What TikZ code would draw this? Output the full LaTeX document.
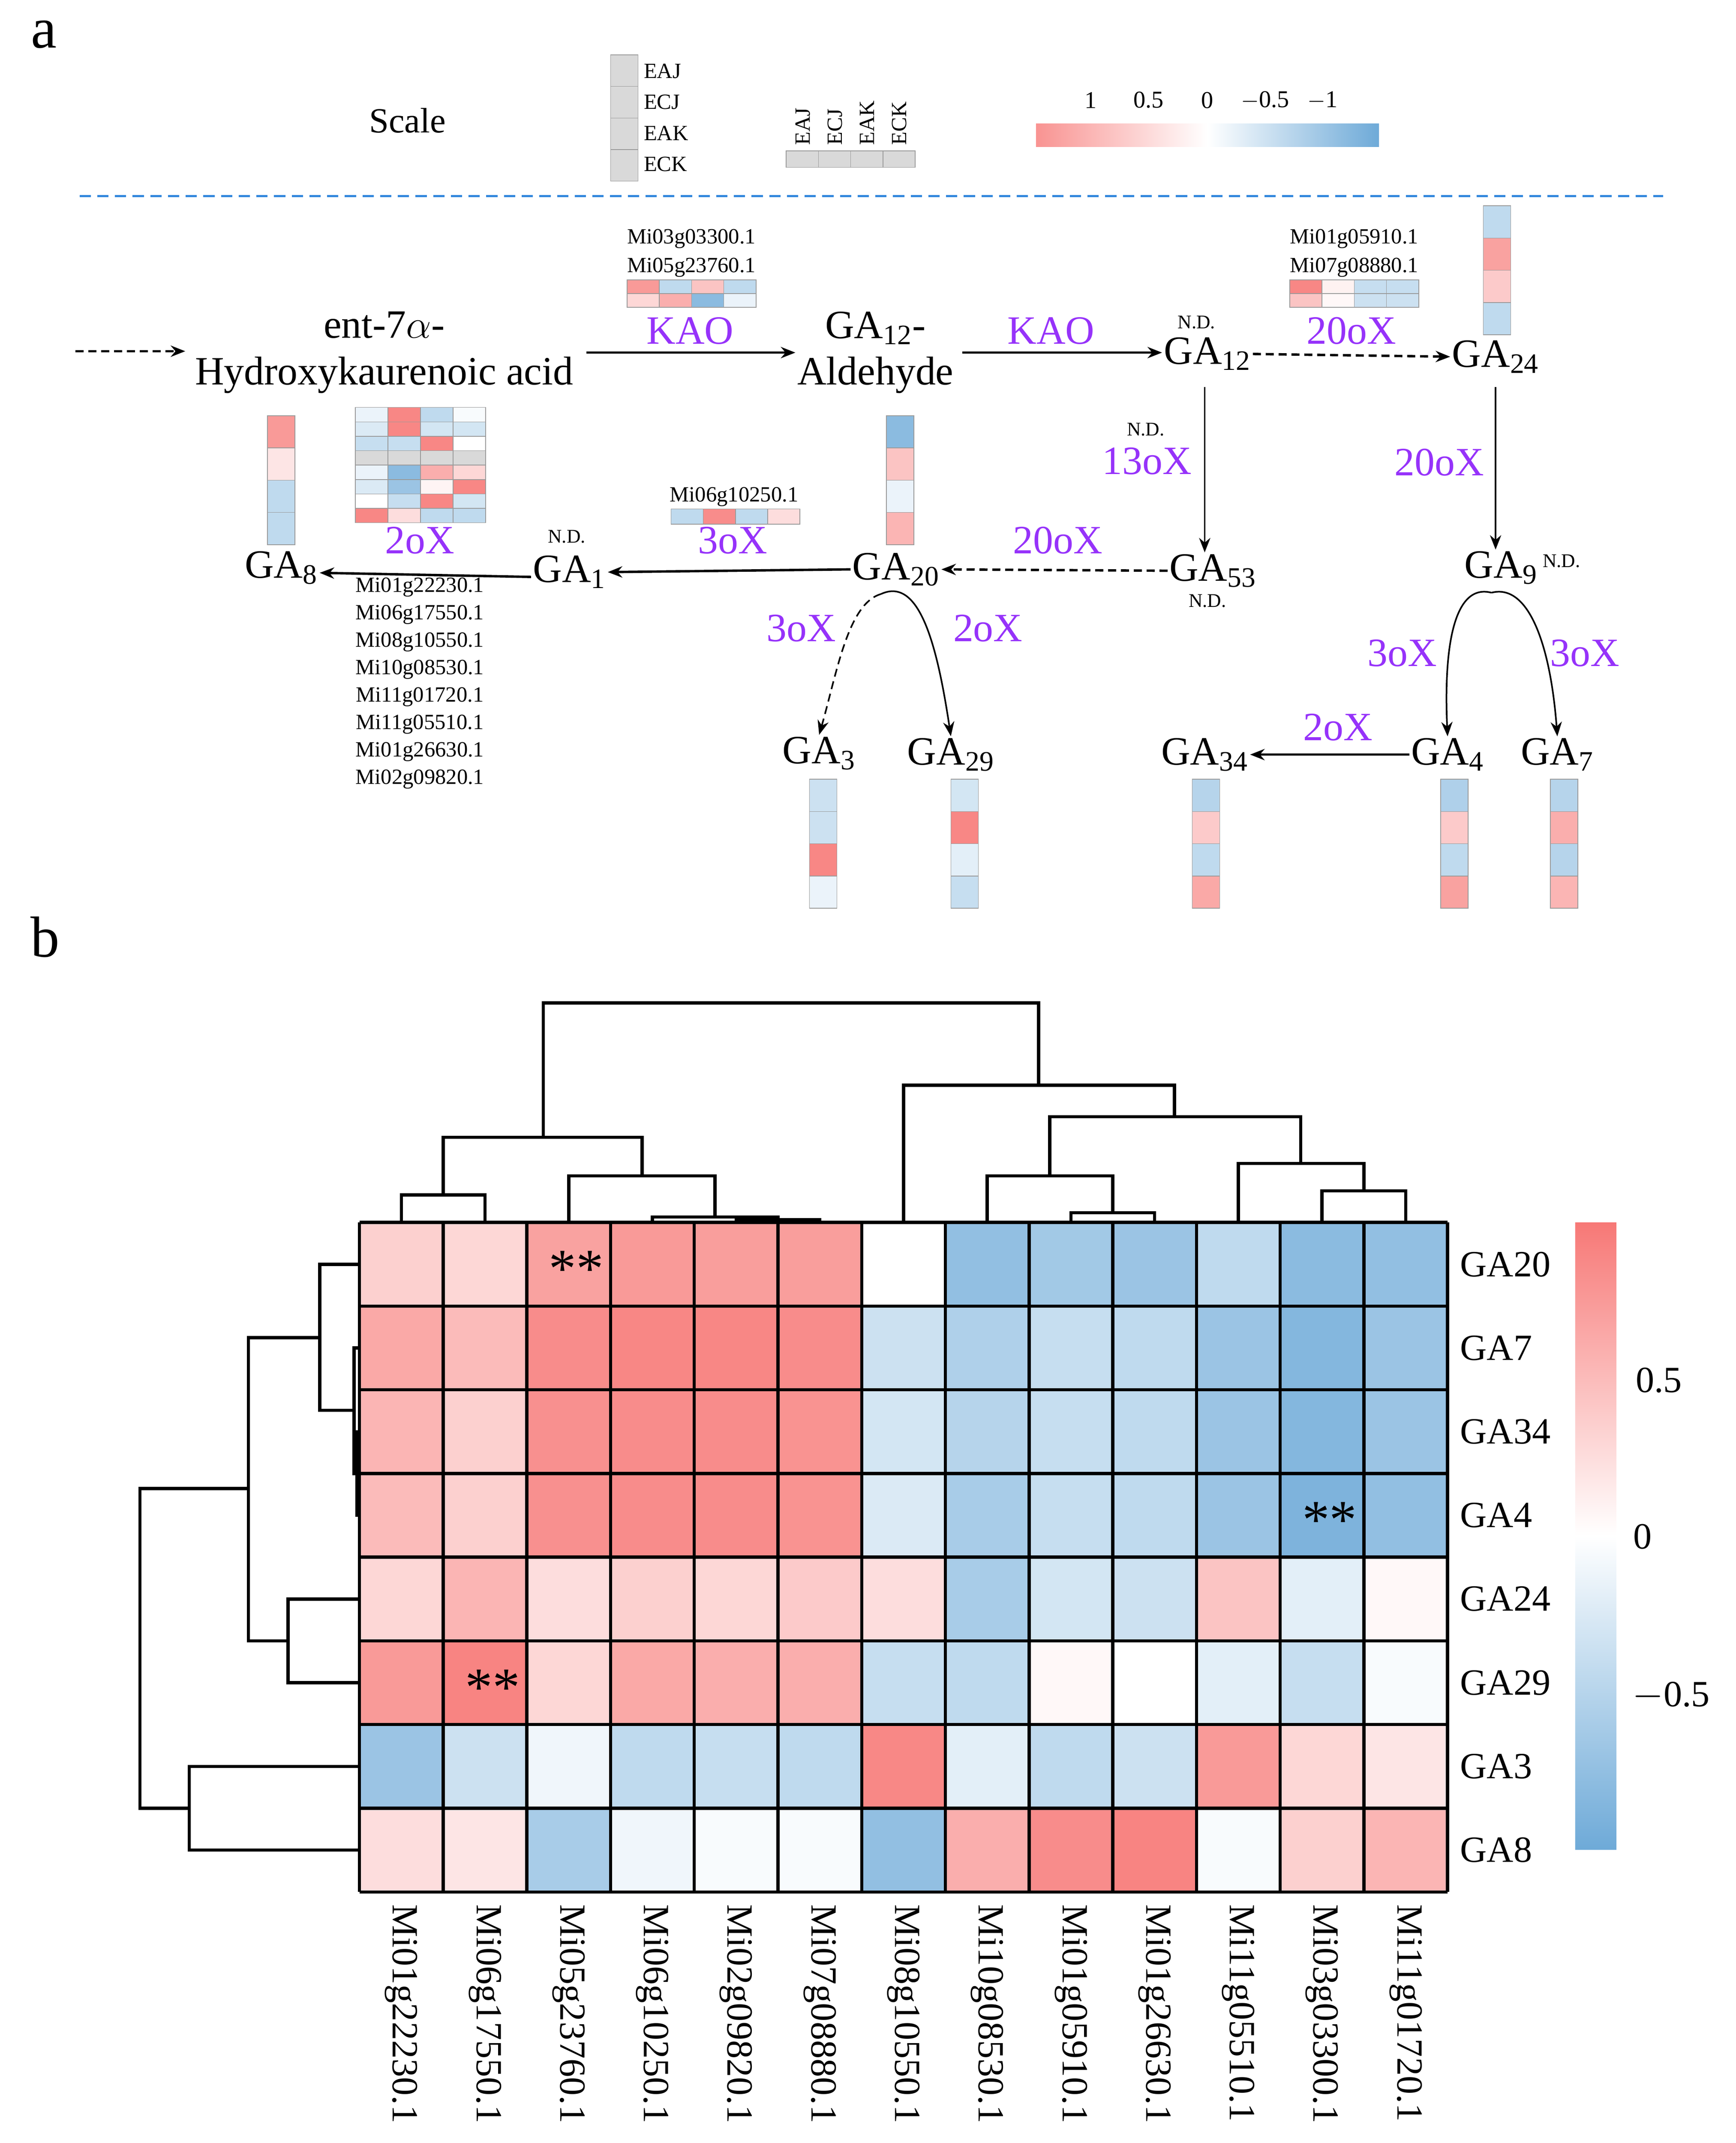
\documentclass[tikz,border=0pt]{standalone}
\usepackage{fontspec}
\setmainfont{Liberation Serif}
\usetikzlibrary{arrows.meta}
\definecolor{hr}{RGB}{247,120,118}
\definecolor{hb}{RGB}{110,170,216}
\definecolor{enz}{RGB}{150,50,250}
\definecolor{dl}{RGB}{50,135,220}
\newcommand\fbig{\fontsize{25}{29}\selectfont}
\newcommand\fgene{\fontsize{13.5}{16}\selectfont}
\newcommand\fmid{\fontsize{23}{26}\selectfont}
\newcommand\hcl[6][cellb]{%
 \pgfmathtruncatemacro\hpct{min(abs(#6),1)*100}%
 \ifdim #6pt>1.5pt \def\hcc{gray!30}\else
 \ifdim #6pt<0pt \def\hcc{hb!\hpct!white}\else\def\hcc{hr!\hpct!white}\fi\fi
 \filldraw[fill=\hcc,#1] (#2,#3) rectangle ++(#4,#5);}
\newcommand\vbar[3]{\foreach \v [count=\i from 0] in {#3} {\hcl{#1}{#2+23.5*\i}{20}{23.5}{\v}}}
\newcommand\hrowc[5]{\foreach \v [count=\i from 0] in {#5} {\hcl{#1+#3*\i}{#2}{#3}{#4}{\v}}}
\begin{document}
\begin{tikzpicture}[x=0.03cm,y=-0.03cm,
 cellb/.style={draw=gray!80,line width=0.4pt},
 lab/.style={font=\fbig,inner sep=1pt},
 en/.style={font=\fbig,text=enz,inner sep=0pt},
 gn/.style={font=\fgene,inner sep=0pt},
 nd/.style={font=\fontsize{12}{14}\selectfont,inner sep=0pt},
 arr/.style={line width=1.5pt,-{Stealth[length=9pt,width=7pt]}},
 thin/.style={line width=1pt,-{Stealth[length=9pt,width=7pt]}},
 dend/.style={line width=2pt,line cap=rect},
 star/.style={font=\fontsize{34}{36}\selectfont,inner sep=0pt}]
\useasboundingbox (0,0) rectangle (1265,1562);
% labels a b
\node[font=\fontsize{36}{40}\selectfont] (la) at (32,25) {a};
\node[font=\fontsize{36}{40}\selectfont] (lb) at (33,683) {b};
% scale
\node[font=\fontsize{22}{26}\selectfont] (sc) at (297,88) {Scale};
\foreach \t [count=\i from 0] in {EAJ,ECJ,EAK,ECK}{
 \hcl{445}{40+23*\i}{20}{23}{2}
 \node[gn,anchor=west] (s\i) at (469,52+22.5*\i) {\t};
 \hcl{573+23.5*\i}{110}{23.5}{12}{2}
 \node[gn,rotate=90,anchor=west] (t\i) at (585+23.5*\i,106) {\t};}
\shade[left color=hr!80!white,right color=hb,middle color=white] (755,90) rectangle (1005,107);
\foreach \t/\x in {1/795,0.5/837,0/880,$-$0.5/922,$-$1/964}
 \node[gn,font=\fontsize{15}{17}\selectfont] at (\x,73) {\t};
\draw[dl,line width=1.3pt,dash pattern=on 7pt off 4pt] (58,143) -- (1212,143);
% pathway nodes
\coordinate (st) at (55,256);
\node[lab,align=center] (ent) at (280,257) {ent-7$\alpha$-\\Hydroxykaurenoic acid};
\node[lab,align=center] (ald) at (638,257) {GA\textsubscript{12}-\\Aldehyde};
\node[lab] (ga12) at (880,258) {GA\textsubscript{12}};
\node[lab] (ga24) at (1090,260) {GA\textsubscript{24}};
\node[lab] (ga53) at (884,416) {GA\textsubscript{53}};
\node[lab] (ga9) at (1094,414) {GA\textsubscript{9}};
\node[lab] (ga20) at (653,415) {GA\textsubscript{20}};
\node[lab] (ga1) at (415,417) {GA\textsubscript{1}};
\node[lab] (ga8) at (205,414) {GA\textsubscript{8}};
\node[lab] (ga3) at (597,549) {GA\textsubscript{3}};
\node[lab] (ga29) at (693,550) {GA\textsubscript{29}};
\node[lab] (ga34) at (878,550) {GA\textsubscript{34}};
\node[lab] (ga4) at (1055,550) {GA\textsubscript{4}};
\node[lab] (ga7) at (1135,550) {GA\textsubscript{7}};
\node[nd] (nd1) at (872,235) {N.D.};
\node[nd] (nd2) at (835,313) {N.D.};
\node[nd] (nd3) at (880,438) {N.D.};
\node[nd] (nd4) at (1138,409) {N.D.};
\node[nd] (nd5) at (413,391) {N.D.};
% arrows
\draw[arr,dash pattern=on 5pt off 3pt] (st) -- (135,256) coordinate (st2);
\draw[arr] (ent.east) ++(8,0) coordinate (e1) -- (ald.west |- e1);
\draw[arr] (ald.east) ++(5,0) coordinate (e2) -- (ga12.west |- e2);
\draw[arr,dash pattern=on 5pt off 3pt] (ga12.east) -- (ga24.west);
\draw[thin] (878,282) coordinate (v1) -- (v1 |- ga53.north);
\draw[thin] (1090,282) coordinate (v2) -- (v2 |- ga9.north);
\draw[arr,dash pattern=on 5pt off 3pt] (ga53.west) -- (ga20.east);
\draw[arr] (ga20.west) -- (ga1.east);
\draw[arr] ([yshift=-3pt]ga1.west) -- ([yshift=-3pt]ga8.east);
\draw[arr] (ga4.west) -- (ga34.east);
\draw[thin,dash pattern=on 5pt off 3pt] (642,433) coordinate (c1) .. controls (618,440) and (610,490) .. (ga3.north);
\draw[thin] (c1) .. controls (670,420) and (683,470) .. (ga29.north);
\draw[thin] (1087,432) coordinate (c2) .. controls (1060,425) and (1052,470) .. (ga4.north);
\draw[thin] (c2) .. controls (1114,425) and (1130,470) .. (ga7.north);
% enzyme labels
\node[en] (k1) at (503,241) {KAO};
\node[en] (k2) at (766,241) {KAO};
\node[en] (o1) at (985,241) {20oX};
\node[en] (o2) at (836,336) {13oX};
\node[en] (o3) at (1049,337) {20oX};
\node[en] (o4) at (771,394) {20oX};
\node[en] (o5) at (534,394) {3oX};
\node[en] (o6) at (306,394) {2oX};
\node[en] (o7) at (584,458) {3oX};
\node[en] (o8) at (720,458) {2oX};
\node[en] (o9) at (1022,476) {3oX};
\node[en] (o10) at (1155,476) {3oX};
\node[en] (o11) at (975,530) {2oX};
% gene labels
\node[gn] (g1) at (504,174) {Mi03g03300.1};
\node[gn] (g2) at (504,195) {Mi05g23760.1};
\node[gn] (g3) at (987,174) {Mi01g05910.1};
\node[gn] (g4) at (987,195) {Mi07g08880.1};
\node[gn] (g5) at (535,362) {Mi06g10250.1};
\foreach \t [count=\i from 0] in {Mi01g22230.1,Mi06g17550.1,Mi08g10550.1,Mi10g08530.1,Mi11g01720.1,Mi11g05510.1,Mi01g26630.1,Mi02g09820.1}
 \node[gn] (gl\i) at (306,428+20*\i) {\t};
% small heatmaps
\hrowc{457}{204}{23.5}{10}{0.75,-0.45,0.45,-0.45}
\hrowc{457}{214}{23.5}{10}{0.3,0.6,-0.8,-0.15}
\hrowc{940}{204}{23.5}{10}{0.9,0.1,-0.4,-0.4}
\hrowc{940}{214}{23.5}{10}{0.45,0.05,-0.35,-0.35}
\hrowc{489}{371}{23.5}{11}{-0.45,0.85,-0.45,0.25}
\foreach \r [count=\j from 0] in {{-0.15,0.9,-0.45,-0.05},{-0.25,0.9,-0.3,-0.3},{-0.4,-0.4,0.9,0},{2,2,2,2},{-0.15,-0.8,0.6,0.3},{-0.25,-0.7,0.08,0.9},{0,-0.4,0.9,-0.3},{0.9,0.25,-0.45,-0.45}}
 {\edef\tmp{\noexpand\hrowc{259}{297+10.5*\j}{23.75}{10.5}{\r}}\tmp}
\vbar{195}{303}{0.75,0.2,-0.45,-0.45}
\vbar{646}{303}{-0.8,0.45,-0.15,0.55}
\vbar{1081}{150}{-0.45,0.7,0.4,-0.45}
\vbar{590}{568}{-0.35,-0.35,0.9,-0.15}
\vbar{693}{568}{-0.3,0.9,-0.2,-0.4}
\vbar{869}{568}{-0.5,0.4,-0.45,0.65}
\vbar{1050}{568}{-0.55,0.4,-0.45,0.7}
\vbar{1130}{568}{-0.5,0.6,-0.5,0.55}
% panel b heatmap
\foreach \row [count=\r from 0] in {
{0.35,0.3,0.7,0.75,0.72,0.72,0,-0.75,-0.65,-0.7,-0.45,-0.8,-0.75},
{0.65,0.5,0.85,0.9,0.9,0.85,-0.35,-0.55,-0.4,-0.45,-0.7,-0.85,-0.7},
{0.55,0.35,0.82,0.85,0.85,0.8,-0.3,-0.5,-0.4,-0.45,-0.7,-0.85,-0.7},
{0.5,0.35,0.82,0.85,0.85,0.8,-0.25,-0.6,-0.4,-0.45,-0.7,-0.9,-0.75},
{0.3,0.55,0.25,0.35,0.3,0.4,0.25,-0.6,-0.3,-0.35,0.45,-0.2,0.05},
{0.75,0.92,0.3,0.65,0.6,0.6,-0.4,-0.45,0.05,0,-0.2,-0.4,-0.05},
{-0.7,-0.35,-0.1,-0.45,-0.4,-0.45,0.88,-0.2,-0.45,-0.35,0.75,0.3,0.2},
{0.25,0.2,-0.6,-0.1,-0.05,-0.05,-0.75,0.6,0.85,0.92,-0.05,0.35,0.55}}
 {\foreach \v [count=\c from 0] in \row {\hcl[draw=none]{262+61*\c}{891+61*\r}{61}{61}{\v}}}
\foreach \i in {0,...,13} \draw[line width=2pt] (262+61*\i,891) -- (262+61*\i,1379);
\foreach \i in {0,...,8} \draw[line width=2pt] (262,891+61*\i) -- (1055,891+61*\i);
\node[star] (st1) at (420,925) {**};
\node[star] (st2b) at (969,1108) {**};
\node[star] (st3) at (359,1230) {**};
\foreach \t [count=\i from 0] in {GA20,GA7,GA34,GA4,GA24,GA29,GA3,GA8}
 \node[font=\fmid,anchor=west,inner sep=0pt] (rl\i) at (1064,921.5+61*\i) {\t};
\foreach \t [count=\i from 0] in {Mi01g22230.1,Mi06g17550.1,Mi05g23760.1,Mi06g10250.1,Mi02g09820.1,Mi07g08880.1,Mi08g10550.1,Mi10g08530.1,Mi01g05910.1,Mi01g26630.1,Mi11g05510.1,Mi03g03300.1,Mi11g01720.1}
 \node[font=\fmid,rotate=-90,anchor=west,inner sep=0pt] (cl\i) at (292.5+61*\i,1388) {\t};
\shade[top color=hr,bottom color=hb,middle color=white] (1148,891) rectangle (1178,1348);
\node[font=\fmid] (b1) at (1209,1006) {0.5};
\node[font=\fmid] (b2) at (1197,1120) {0};
\node[font=\fmid] (b3) at (1218,1236) {$-$0.5};
% top dendrogram
\draw[dend] (292.5,891) |- (353.5,871) -- (353.5,891);
\draw[dend] (536.5,891) |- (597.5,889) -- (597.5,891);
\draw[dend] (475.5,891) |- (567,887) -- (567,889);
\draw[dend] (414.5,891) |- (521,857) -- (521,887);
\draw[dend] (323,871) |- (468,829) -- (468,857);
\draw[dend] (780.5,891) |- (841.5,884) -- (841.5,891);
\draw[dend] (719.5,891) |- (811,857) -- (811,884);
\draw[dend] (963.5,891) |- (1024.5,868) -- (1024.5,891);
\draw[dend] (902.5,891) |- (994,848) -- (994,868);
\draw[dend] (765,857) |- (948,814) -- (948,848);
\draw[dend] (658.5,891) |- (856,791) -- (856,814);
\draw[dend] (396,829) |- (757,731) -- (757,791);
% left dendrogram
\draw[dend] (262,1043.5) -| (260,1104.5) -- (262,1104.5);
\draw[dend] (262,982.5) -| (258,1074) -- (260,1074);
\draw[dend] (262,921.5) -| (233,1028) -- (258,1028);
\draw[dend] (262,1165.5) -| (210,1226.5) -- (262,1226.5);
\draw[dend] (233,975) -| (181,1196) -- (210,1196);
\draw[dend] (262,1287.5) -| (138,1348.5) -- (262,1348.5);
\draw[dend] (181,1085) -| (102,1318) -- (138,1318);
\end{tikzpicture}
\end{document}
